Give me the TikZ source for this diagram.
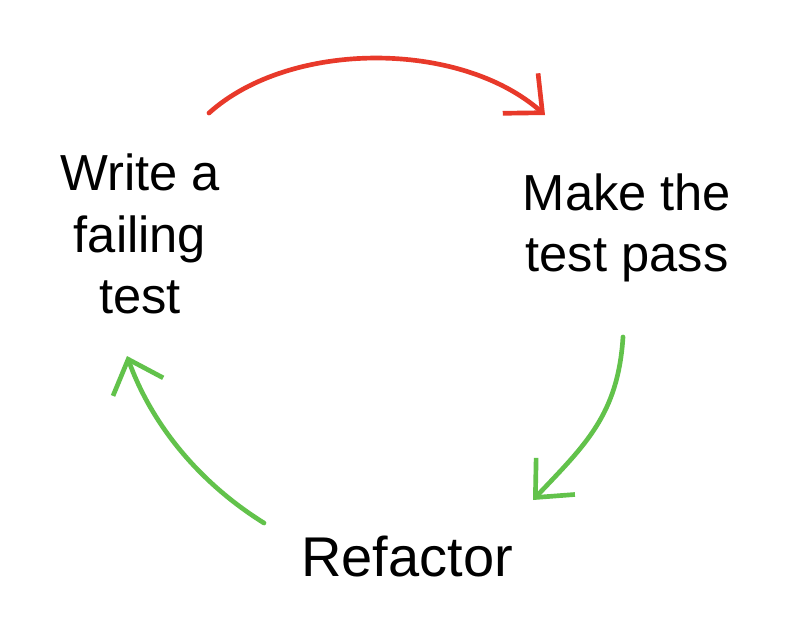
\documentclass[tikz,border=0pt]{standalone}
\usepackage{fontspec}
\setmainfont{Liberation Sans}
\usetikzlibrary{arrows.meta}
\definecolor{cred}{HTML}{E8392A}
\definecolor{cgreen}{HTML}{62C24B}
\begin{document}
\begin{tikzpicture}[x=0.75pt,y=-0.75pt,
  label/.style={align=center,font=\fontsize{38}{46}\selectfont,inner sep=0pt},
  cyc/.style={line width=3.5pt,line cap=round,line join=round,
    -{Straight Barb[length=22pt,width=40pt,line width=3.5pt]}}]
\useasboundingbox (0,0) rectangle (794,640);
\fill[white] (0,0) rectangle (794,640);
\node[label] (write) at (140,234) {Write a\\failing\\test};
\node[label] (make) at (627,228) {Make the\\test pass};
\node[label,font=\fontsize{42}{50}\selectfont] (refactor) at (407,557) {Refactor};
\coordinate (r1) at (209,113);
\coordinate (r2) at (545,115);
\coordinate (g1) at (623,337);
\coordinate (g2) at (533,500);
\coordinate (l1) at (264,523);
\coordinate (l2) at (127,356);
\draw[cyc,cred] (r1) .. controls (290,40) and (460,40) .. (r2);
\draw[cyc,cgreen] (g1) .. controls (618,415) and (585,445) .. (g2);
\draw[cyc,cgreen] (l1) .. controls (195,480) and (150,420) .. (l2);
\end{tikzpicture}
\end{document}
